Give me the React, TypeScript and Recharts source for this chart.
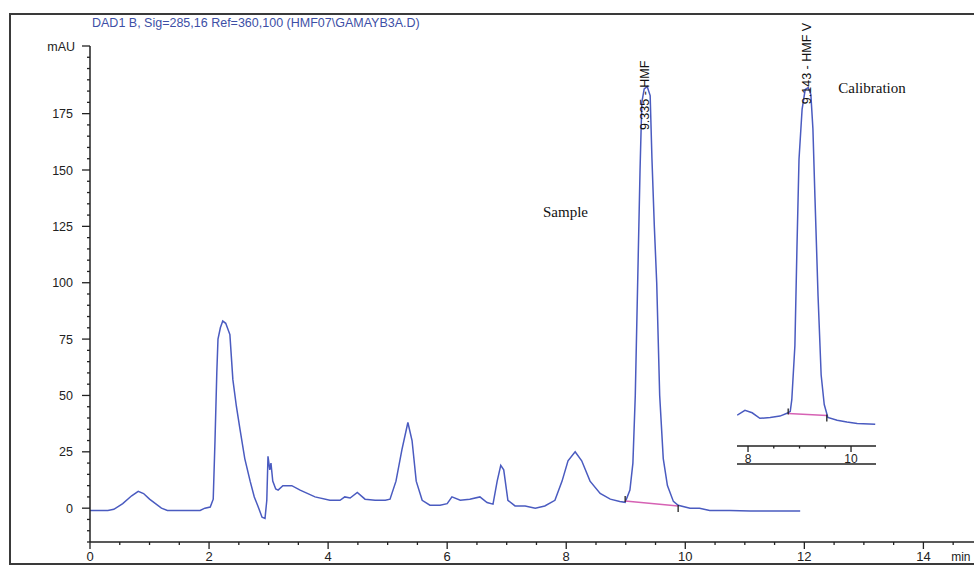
import React from "react";
import { LineChart, Line, XAxis, YAxis, ReferenceDot } from "recharts";

// Chromatogram DAD1 B: [time (min), signal (mAU)]
const sampleTrace: [number, number][] = [
  [0, -1], [0.3, -1], [0.4, -0.5], [0.55, 2], [0.7, 5.5], [0.81, 7.5], [0.9, 6.5], [1.0, 4],
  [1.1, 2], [1.2, 0], [1.3, -1], [1.85, -1], [1.93, 0], [2.02, 0.5], [2.07, 4], [2.1, 30],
  [2.13, 60], [2.15, 75], [2.19, 80], [2.23, 83], [2.28, 82], [2.35, 77], [2.4, 57], [2.46, 45],
  [2.52, 35], [2.6, 22], [2.69, 12], [2.76, 5], [2.82, 1], [2.89, -4], [2.94, -4.5], [2.97, 3.5],
  [2.99, 23], [3.02, 17], [3.04, 20], [3.07, 12], [3.12, 8.5], [3.16, 8], [3.24, 10], [3.39, 10],
  [3.53, 8], [3.78, 5], [4.03, 3.5], [4.2, 3.5], [4.28, 5], [4.37, 4.5], [4.49, 7], [4.62, 4],
  [4.79, 3.5], [4.96, 3.5], [5.04, 4], [5.14, 12], [5.24, 26], [5.34, 38], [5.41, 30], [5.48, 12],
  [5.58, 3.5], [5.71, 1.3], [5.88, 1.3], [6.0, 2], [6.08, 5], [6.22, 3.5], [6.38, 4], [6.55, 5],
  [6.67, 2.5], [6.77, 1.8], [6.84, 12], [6.9, 19], [6.95, 17], [7.02, 3.5], [7.14, 1], [7.31, 1],
  [7.48, 0], [7.64, 1], [7.81, 3.5], [7.93, 12], [8.03, 21], [8.15, 25], [8.26, 21], [8.4, 12],
  [8.57, 6.5], [8.74, 4], [8.9, 3], [8.99, 2.6], [9.07, 8], [9.12, 20], [9.16, 50], [9.2, 100],
  [9.24, 150], [9.27, 180], [9.31, 186], [9.36, 187], [9.41, 183], [9.44, 155], [9.48, 125],
  [9.52, 100], [9.57, 50], [9.63, 22], [9.7, 10], [9.8, 3], [9.88, 1.3], [10.08, 0], [10.24, 0],
  [10.41, -1], [10.75, -1], [11.09, -1.3], [11.93, -1.3],
];
const sampleBaseline: [number, number][] = [[8.99, 3.2], [9.88, 1.0]];

// calibration inset, same mAU scale
const calibTrace: [number, number][] = [
  [7.79, 38.7], [7.94, 40.9], [8.08, 39.8], [8.23, 37.3], [8.43, 37.7], [8.62, 38.3], [8.78, 39.8],
  [8.82, 40.5], [8.85, 45.7], [8.91, 70], [8.95, 114], [8.99, 154], [9.05, 176.5], [9.11, 185.4],
  [9.17, 186.3], [9.22, 183.2], [9.26, 167.7], [9.3, 136.6], [9.36, 92.3], [9.42, 56.8],
  [9.48, 43.5], [9.55, 37.7], [9.73, 36.4], [9.92, 35.6], [10.12, 35], [10.47, 34.6],
];
const calibBaseline: [number, number][] = [[8.78, 39.5], [9.53, 38.6]];

const yLabels = [0, 25, 50, 75, 100, 125, 150, 175];
const xLabels = [0, 2, 4, 6, 8, 10, 12, 14];
const insetLabels = [8, 10];

const TRACE = "#4a5bc0";
const PINK = "#d662b4";
const INK = "#222";

const toPts = (arr: [number, number][]) => arr.map(([t, v]) => ({ t, v }));

const yTicks: number[] = [];
for (let v = -15; v <= 205; v += 5) yTicks.push(v);
const xTicks: number[] = [];
for (let t = 0; t <= 14.5; t += 0.5) xTicks.push(t);

function YTick({ x, y, payload }: any) {
  const v = payload.value;
  const label = v === 205 ? "mAU" : yLabels.includes(v) ? String(v) : null;
  const long = label != null;
  return (
    <g>
      <line x1={x - (long ? 8 : 3)} x2={x} y1={y} y2={y} stroke={INK} strokeWidth={1.3} />
      {label && (
        <text x={x - (v === 205 ? 15 : 17)} y={y} dy={4.5} textAnchor="end" fontSize={12.5} fill={INK}>
          {label}
        </text>
      )}
    </g>
  );
}

function XTick({ x, y, payload }: any) {
  const v = payload.value;
  const long = xLabels.includes(v);
  return (
    <g>
      <line x1={x} x2={x} y1={y} y2={y + (long ? 7 : 3)} stroke={INK} strokeWidth={1.3} />
      {long && (
        <text x={x} y={y + 19} textAnchor="middle" fontSize={13} fill={INK}>
          {v}
        </text>
      )}
      {v === 14.5 && (
        <text x={x - 2} y={y + 19} fontSize={12} fill={INK}>
          min
        </text>
      )}
    </g>
  );
}

function InsetTick({ x, y, payload }: any) {
  const v = payload.value;
  const long = insetLabels.includes(v);
  return (
    <g>
      <line x1={x} x2={x} y1={y} y2={y + (long ? 6 : 2.5)} stroke={INK} strokeWidth={1.3} />
      {long && (
        <text x={x} y={y + 17} textAnchor="middle" fontSize={12} fill={INK}>
          {v}
        </text>
      )}
    </g>
  );
}

// integration marks at start/end of the pink baseline
const baselineDot = (n: number) => (p: any) => {
  if (p.index === 0)
    return <line key="s" x1={p.cx} x2={p.cx} y1={p.cy - 5} y2={p.cy + 1} stroke={INK} strokeWidth={1.3} />;
  if (p.index === n - 1)
    return <line key="e" x1={p.cx} x2={p.cx} y1={p.cy - 1} y2={p.cy + 6} stroke={INK} strokeWidth={1.3} />;
  return <g key={p.index} />;
};

const peakLabel = (text: string) => (p: any) => (
  <text
    x={p.cx}
    y={p.cy}
    dy={4.5}
    transform={`rotate(-90 ${p.cx} ${p.cy})`}
    fontSize={12.5}
    fill="#111"
  >
    {text}
  </text>
);

const note = (text: string) => (p: any) => (
  <text x={p.cx} y={p.cy} fontSize={15} fill="#111" fontFamily="'Liberation Serif', 'Times New Roman', serif">
    {text}
  </text>
);

export default function App() {
  return (
    <div
      style={{
        position: "absolute",
        left: 0,
        top: 0,
        width: 974,
        height: 566,
        overflow: "hidden",
        background: "#fff",
        fontFamily: "Arial, 'Liberation Sans', sans-serif",
      }}
    >
      <div
        style={{
          position: "absolute",
          left: 9,
          top: 13,
          width: 1000,
          height: 552,
          border: "2px solid #3a3a3a",
          boxSizing: "border-box",
        }}
      />
      <div style={{ position: "absolute", left: 92, top: 16, fontSize: 12.5, color: "#3d4fa6", whiteSpace: "nowrap" }}>
        DAD1 B, Sig=285,16 Ref=360,100 (HMF07\GAMAYB3A.D)
      </div>

      <div style={{ position: "absolute", left: 0, top: 0 }}>
        <LineChart width={974} height={566} margin={{ top: 46, right: 0, bottom: 0, left: 0 }}>
          <XAxis
            dataKey="t"
            type="number"
            domain={[0, 14.85]}
            allowDataOverflow
            ticks={xTicks}
            interval={0}
            height={24}
            tickSize={0}
            tickMargin={0}
            tickLine={false}
            axisLine={{ stroke: INK, strokeWidth: 1.5 }}
            tick={(p: any) => <XTick {...p} />}
          />
          <YAxis
            dataKey="v"
            type="number"
            domain={[-15, 205]}
            allowDataOverflow
            ticks={yTicks}
            interval={0}
            width={90}
            tickSize={0}
            tickMargin={0}
            tickLine={false}
            axisLine={{ stroke: INK, strokeWidth: 1.5 }}
            tick={(p: any) => <YTick {...p} />}
          />
          <Line
            data={toPts(sampleTrace)}
            dataKey="v"
            type="linear"
            stroke={TRACE}
            strokeWidth={1.5}
            dot={false}
            isAnimationActive={false}
          />
          <Line
            data={toPts(sampleBaseline)}
            dataKey="v"
            type="linear"
            stroke={PINK}
            strokeWidth={1.5}
            dot={baselineDot(sampleBaseline.length)}
            isAnimationActive={false}
          />
          <ReferenceDot x={9.31} y={167.7} r={0} shape={peakLabel("9.335 - HMF")} />
          <ReferenceDot x={7.61} y={129} r={0} shape={note("Sample")} />
          <ReferenceDot x={12.57} y={184} r={0} shape={note("Calibration")} />
        </LineChart>
      </div>

      <div style={{ position: "absolute", left: 737, top: 20 }}>
        <LineChart width={139} height={452} margin={{ top: 26, right: 0, bottom: 0, left: 0 }}>
          <XAxis
            xAxisId="a"
            dataKey="t"
            type="number"
            domain={[7.786, 10.485]}
            allowDataOverflow
            ticks={[8, 8.5, 9, 9.5, 10, 10.5]}
            interval={0}
            height={18}
            tickSize={0}
            tickMargin={0}
            tickLine={false}
            axisLine={{ stroke: INK, strokeWidth: 1.5 }}
            tick={(p: any) => <InsetTick {...p} />}
          />
          <XAxis
            xAxisId="b"
            dataKey="t"
            type="number"
            domain={[7.786, 10.485]}
            height={8}
            tick={false}
            tickLine={false}
            axisLine={{ stroke: INK, strokeWidth: 1.5 }}
          />
          <YAxis dataKey="v" type="number" domain={[24.84, 205]} allowDataOverflow hide />
          <Line
            xAxisId="a"
            data={toPts(calibTrace)}
            dataKey="v"
            type="linear"
            stroke={TRACE}
            strokeWidth={1.5}
            dot={false}
            isAnimationActive={false}
          />
          <Line
            xAxisId="a"
            data={toPts(calibBaseline)}
            dataKey="v"
            type="linear"
            stroke={PINK}
            strokeWidth={1.5}
            dot={baselineDot(calibBaseline.length)}
            isAnimationActive={false}
          />
          <ReferenceDot xAxisId="a" x={9.14} y={178.8} r={0} shape={peakLabel("9.143 - HMF V")} />
        </LineChart>
      </div>
    </div>
  );
}
